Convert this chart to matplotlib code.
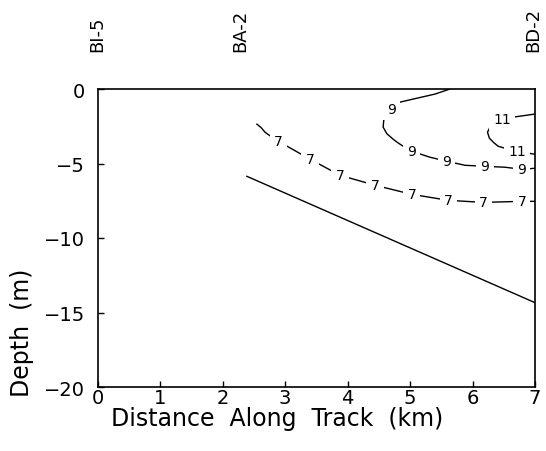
import matplotlib
matplotlib.use("Agg")
import matplotlib.pyplot as plt
import matplotlib.transforms as mtransforms

# ── data ─────────────────────────────────────────────────────────────────────
stations   = ["BI-5", "BA-2", "BD-2"]
station_km = [0.0, 2.28, 6.97]

# bottom (seabed) line
bottom_x = [2.39, 7.0]
bottom_y = [-5.86, -14.34]

# contour 7
c7_x = [2.55, 2.62, 2.68, 2.78, 2.89, 3.40, 3.88, 4.44, 5.03, 5.61, 6.17, 6.79, 7.0]
c7_y = [-2.36, -2.60, -2.90, -3.20, -3.50, -4.71, -5.79, -6.46, -7.07, -7.47, -7.61, -7.54, -7.54]
c7_lab_x = [2.89, 3.40, 3.88, 4.44, 5.03, 5.61, 6.17, 6.79]
c7_lab_y = [-3.50, -4.71, -5.79, -6.46, -7.07, -7.47, -7.61, -7.54]

# contour 9
c9_x = [5.64, 5.40, 4.84, 4.71, 4.63, 4.58, 4.57, 4.63, 4.73, 4.81, 4.89, 5.03,
        5.32, 5.59, 5.88, 6.20, 6.52, 6.79, 7.0]
c9_y = [0.0, -0.34, -0.88, -1.35, -1.70, -2.10, -2.56, -3.00, -3.37, -3.62, -3.84, -4.18,
        -4.58, -4.85, -5.12, -5.19, -5.25, -5.39, -5.32]
c9_lab_x = [4.71, 5.03, 5.59, 6.20, 6.79]
c9_lab_y = [-1.35, -4.18, -4.85, -5.19, -5.39]

# contour 11
c11_x = [7.0, 6.65, 6.47, 6.36, 6.28, 6.24, 6.27, 6.34, 6.41, 6.57, 6.71, 7.0]
c11_y = [-1.68, -1.89, -2.02, -2.25, -2.56, -2.90, -3.30, -3.60, -3.84, -4.04, -4.18, -4.38]
c11_lab_x = [6.47, 6.71]
c11_lab_y = [-2.02, -4.18]

xticks = [0, 1, 2, 3, 4, 5, 6, 7]
yticks = [0, -5, -10, -15, -20]

# ── plot ─────────────────────────────────────────────────────────────────────
W, H = 546, 452
fig = plt.figure(figsize=(W / 100, H / 100), dpi=100)
ax = fig.add_axes([97.5 / W, 1 - 388 / H, (535 - 97.5) / W, (388 - 90) / H])

ax.plot(bottom_x, bottom_y, color="black", lw=1.0)

for cx, cy, lx, ly, lab in [(c7_x, c7_y, c7_lab_x, c7_lab_y, "7"),
                            (c9_x, c9_y, c9_lab_x, c9_lab_y, "9"),
                            (c11_x, c11_y, c11_lab_x, c11_lab_y, "11")]:
    ax.plot(cx, cy, color="black", lw=1.0)
    for x, y in zip(lx, ly):
        ax.text(x, y, lab, fontsize=10, ha="center", va="center",
                bbox=dict(boxstyle="square,pad=0.3", fc="white", ec="none"))

ax.set_xlim(0, 7)
ax.set_ylim(-20, 0)
ax.set_xticks(xticks)
ax.set_yticks(yticks)
ax.set_yticklabels(["0", "\u22125", "\u221210", "\u221215", "\u221220"])
ax.tick_params(direction="in", length=4, width=1, labelsize=14)
ax.tick_params(axis="x", pad=1)
ax.tick_params(axis="y", pad=9)
for sp in ax.spines.values():
    sp.set_linewidth(1.2)

# station names above the plot
trans = mtransforms.blended_transform_factory(ax.transData, fig.transFigure)
for name, km in zip(stations, station_km):
    ax.text(km, 1 - 52 / H, name, rotation=90, ha="center", va="bottom",
            fontsize=13, transform=trans, clip_on=False)

fig.text(277 / W, 1 - 419 / H, "Distance  Along  Track  (km)", ha="center",
         va="center", fontsize=17)
fig.text(22 / W, 1 - 333 / H, "Depth  (m)", rotation=90, ha="center",
         va="center", fontsize=17)

fig.savefig("out.png", dpi=100)
